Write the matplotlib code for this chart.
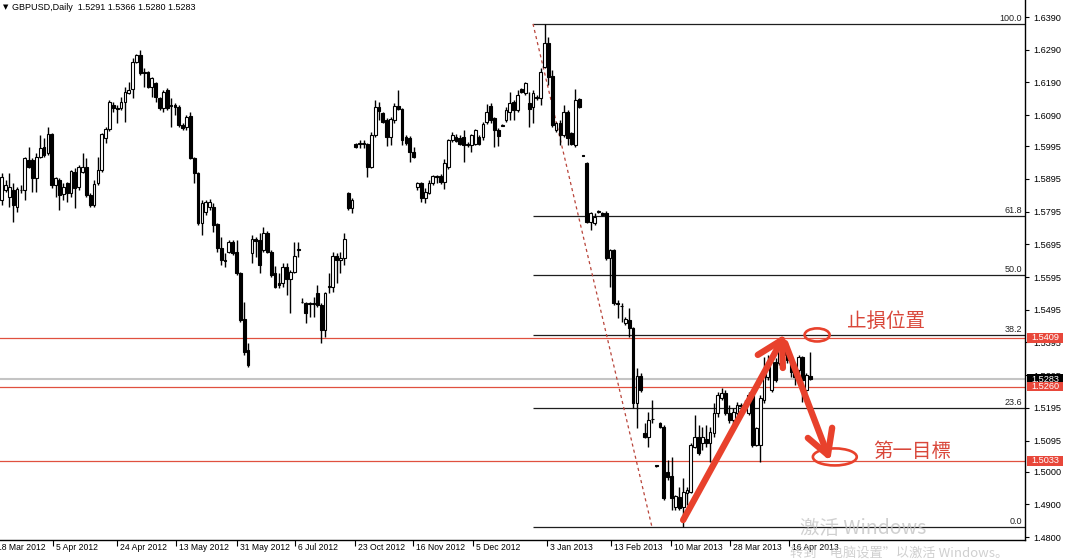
import matplotlib
matplotlib.use('Agg')
import matplotlib.pyplot as plt
from matplotlib.patches import Ellipse, Rectangle
import matplotlib.transforms as mtransforms

# ---------------- data (GBPUSD daily) ----------------
opens = [1.5831,1.5861,1.5839,1.5861,1.5810,1.5860,1.5861,1.5953,1.5953,1.5898,
1.5962,1.5992,1.5974,1.6032,1.5876,1.5891,1.5849,1.5882,1.5852,1.5916,
1.5870,1.5916,1.5931,1.5846,1.5816,1.5882,1.5922,1.6020,1.6047,1.6121,
1.6112,1.6112,1.6130,1.6158,1.6170,1.6252,1.6274,1.6222,1.6222,1.6176,
1.6188,1.6142,1.6112,1.6167,1.6121,1.6121,1.6115,1.6060,1.6053,1.6087,
1.5959,1.5913,1.5761,1.5794,1.5810,1.5810,1.5758,1.5684,1.5648,1.5672,
1.5703,1.5672,1.5608,1.5467,1.5372,1.5669,1.5712,1.5709,1.5678,1.5730,
1.5672,1.5608,1.5577,1.5577,1.5626,1.5590,1.5611,1.5681,1.5519,1.5516,
1.5516,1.5514,1.5547,1.5510,1.5433,1.5565,1.5565,1.5660,1.5648,1.5654,
1.5852,1.5806,1.6001,1.6004,1.6002,1.6001,1.5931,1.6029,1.6115,1.6096,
1.6075,1.6023,1.6075,1.6118,1.6108,1.6023,1.6020,1.5977,1.5870,1.5882,
1.5837,1.5852,1.5882,1.5904,1.5904,1.5886,1.5932,1.6014,1.6023,1.6020,
1.6023,1.5999,1.5999,1.6002,1.6023,1.6023,1.6069,1.6118,1.6081,1.6044,
1.6058,1.6075,1.6099,1.6130,1.6105,1.6170,1.6158,1.6127,1.6115,1.6142,
1.6142,1.6237,1.6311,1.6210,1.6044,1.6066,1.6029,1.6099,1.6035,1.5998,
1.6139,1.5968,1.5944,1.5764,1.5761,1.5794,1.5791,1.5791,1.5654,1.5678,
1.5516,1.5507,1.5455,1.5464,1.5439,1.5210,1.5292,1.5118,1.5106,1.5161,
1.5020,1.5149,1.5136,1.4999,1.4987,1.4892,1.4923,1.4892,1.4935,1.4938,
1.5076,1.5106,1.5088,1.5100,1.5088,1.5118,1.5179,1.5225,1.5240,1.5179,
1.5158,1.5179,1.5201,1.5198,1.5179,1.5234,1.5082,1.5082,1.5219,1.5289,
1.5249,1.5335,1.5332,1.5357,1.5381,1.5341,1.5326,1.5311,1.5350,1.5249,
1.5291]

highs = [1.5913,1.5891,1.5913,1.5882,1.5870,1.5876,1.5962,1.5992,1.5959,1.5974,
1.6029,1.6020,1.6053,1.6035,1.5901,1.5898,1.5882,1.5886,1.5922,1.5928,
1.5937,1.5974,1.5959,1.5852,1.5891,1.5962,1.6035,1.6053,1.6136,1.6130,
1.6121,1.6145,1.6176,1.6191,1.6265,1.6277,1.6289,1.6234,1.6225,1.6207,
1.6191,1.6145,1.6167,1.6173,1.6142,1.6127,1.6121,1.6066,1.6090,1.6099,
1.5962,1.5916,1.5831,1.5831,1.5834,1.5822,1.5761,1.5718,1.5669,1.5709,
1.5709,1.5709,1.5611,1.5519,1.5394,1.5724,1.5718,1.5730,1.5749,1.5736,
1.5678,1.5629,1.5608,1.5639,1.5639,1.5617,1.5703,1.5703,1.5531,1.5519,
1.5519,1.5534,1.5571,1.5516,1.5550,1.5608,1.5672,1.5669,1.5672,1.5730,
1.5855,1.5837,1.6004,1.6013,1.6013,1.6004,1.6038,1.6136,1.6130,1.6099,
1.6081,1.6084,1.6127,1.6167,1.6112,1.6029,1.6026,1.5992,1.5886,1.5886,
1.5867,1.5891,1.5907,1.5907,1.5910,1.5956,1.6017,1.6038,1.6032,1.6029,
1.6045,1.6008,1.6032,1.6048,1.6029,1.6069,1.6124,1.6127,1.6084,1.6050,
1.6063,1.6115,1.6161,1.6136,1.6167,1.6173,1.6191,1.6161,1.6167,1.6152,
1.6234,1.6369,1.6329,1.6228,1.6069,1.6075,1.6121,1.6105,1.6038,1.6170,
1.6142,1.5969,1.5947,1.5794,1.5791,1.5800,1.5794,1.5797,1.5681,1.5681,
1.5525,1.5516,1.5473,1.5501,1.5442,1.5317,1.5302,1.5149,1.5182,1.5219,
1.5021,1.5152,1.5143,1.5036,1.5045,1.4929,1.4954,1.4981,1.4954,1.5088,
1.5173,1.5143,1.5137,1.5143,1.5137,1.5210,1.5243,1.5256,1.5249,1.5204,
1.5194,1.5213,1.5210,1.5219,1.5243,1.5249,1.5137,1.5234,1.5350,1.5356,
1.5350,1.5347,1.5396,1.5402,1.5393,1.5350,1.5332,1.5356,1.5353,1.5302,
1.5366]

lows = [1.5816,1.5855,1.5810,1.5764,1.5794,1.5852,1.5831,1.5928,1.5855,1.5855,
1.5959,1.5962,1.5968,1.5867,1.5839,1.5800,1.5831,1.5825,1.5839,1.5807,
1.5861,1.5913,1.5839,1.5810,1.5810,1.5876,1.5916,1.6005,1.6041,1.6099,
1.6066,1.6105,1.6069,1.6155,1.6142,1.6249,1.6213,1.6176,1.6173,1.6145,
1.6130,1.6105,1.6099,1.6105,1.6053,1.6090,1.6053,1.6044,1.6044,1.5956,
1.5882,1.5755,1.5724,1.5785,1.5800,1.5733,1.5672,1.5632,1.5626,1.5669,
1.5663,1.5602,1.5458,1.5357,1.5320,1.5639,1.5657,1.5608,1.5672,1.5669,
1.5596,1.5562,1.5562,1.5565,1.5541,1.5485,1.5608,1.5657,1.5516,1.5455,
1.5473,1.5473,1.5504,1.5394,1.5412,1.5547,1.5550,1.5577,1.5608,1.5632,
1.5800,1.5791,1.5989,1.5989,1.5989,1.5901,1.5928,1.6023,1.6075,1.6066,
1.5995,1.5998,1.6066,1.6105,1.5998,1.5998,1.5946,1.5959,1.5861,1.5825,
1.5822,1.5849,1.5876,1.5882,1.5879,1.5864,1.5926,1.6007,1.6008,1.5999,
1.5947,1.5993,1.5977,1.5999,1.5999,1.6014,1.6063,1.6066,1.5992,1.5995,
1.6056,1.6069,1.6075,1.6075,1.6099,1.6158,1.6152,1.6053,1.6066,1.6136,
1.6121,1.6234,1.6182,1.6053,1.6038,1.5998,1.6023,1.5998,1.5999,1.5992,
1.6112,1.5965,1.5761,1.5740,1.5755,1.5791,1.5782,1.5648,1.5565,1.5510,
1.5470,1.5458,1.5449,1.5412,1.5195,1.5133,1.5243,1.5103,1.5076,1.5149,
1.5015,1.5133,1.4914,1.4975,1.4883,1.4883,1.4883,1.4831,1.4899,1.4935,
1.5073,1.5051,1.5066,1.5076,1.5030,1.5106,1.5167,1.5219,1.5173,1.5149,
1.5136,1.5173,1.5195,1.5185,1.5173,1.5076,1.5079,1.5030,1.5210,1.5280,
1.5243,1.5274,1.5326,1.5350,1.5332,1.5289,1.5265,1.5302,1.5213,1.5240,
1.5280]

closes = [1.5901,1.5876,1.5870,1.5816,1.5864,1.5861,1.5959,1.5931,1.5898,1.5962,
1.5989,1.5968,1.6032,1.5876,1.5898,1.5846,1.5870,1.5852,1.5919,1.5867,
1.5931,1.5931,1.5846,1.5816,1.5879,1.5922,1.6032,1.6047,1.6130,1.6112,
1.6108,1.6130,1.6161,1.6167,1.6252,1.6274,1.6219,1.6219,1.6176,1.6204,
1.6145,1.6112,1.6161,1.6112,1.6118,1.6115,1.6060,1.6050,1.6084,1.5959,
1.5913,1.5761,1.5822,1.5825,1.5825,1.5755,1.5684,1.5648,1.5645,1.5703,
1.5669,1.5608,1.5464,1.5366,1.5326,1.5712,1.5706,1.5632,1.5730,1.5672,
1.5602,1.5565,1.5571,1.5626,1.5590,1.5611,1.5660,1.5678,1.5518,1.5485,
1.5513,1.5517,1.5510,1.5433,1.5547,1.5568,1.5660,1.5648,1.5654,1.5712,
1.5806,1.5831,1.5992,1.6002,1.6004,1.5931,1.6029,1.6115,1.6102,1.6069,
1.6023,1.6078,1.6118,1.6108,1.6014,1.6004,1.5977,1.5962,1.5882,1.5837,
1.5855,1.5882,1.5904,1.5901,1.5886,1.5944,1.6014,1.6029,1.6011,1.6002,
1.5999,1.6002,1.6029,1.6045,1.6002,1.6063,1.6099,1.6075,1.6044,1.6026,
1.6060,1.6105,1.6127,1.6105,1.6152,1.6161,1.6188,1.6108,1.6158,1.6145,
1.6222,1.6311,1.6207,1.6060,1.6066,1.6029,1.6099,1.6020,1.6002,1.6136,
1.6115,1.5966,1.5764,1.5791,1.5779,1.5797,1.5785,1.5654,1.5678,1.5516,
1.5513,1.5505,1.5467,1.5439,1.5210,1.5292,1.5249,1.5106,1.5158,1.5160,
1.5018,1.5136,1.4920,1.4984,1.4920,1.4926,1.4889,1.4938,1.4944,1.5082,
1.5106,1.5057,1.5106,1.5088,1.5121,1.5179,1.5234,1.5240,1.5179,1.5158,
1.5182,1.5204,1.5204,1.5197,1.5234,1.5082,1.5133,1.5225,1.5295,1.5332,
1.5335,1.5280,1.5387,1.5387,1.5341,1.5305,1.5289,1.5350,1.5280,1.5295,
1.5283]

symbol = "GBPUSD,Daily"
date_labels = ["18 Mar 2012", "5 Apr 2012", "24 Apr 2012", "13 May 2012", "31 May 2012",
               "6 Jul 2012", "23 Oct 2012", "16 Nov 2012", "5 Dec 2012", "3 Jan 2013",
               "13 Feb 2013", "10 Mar 2013", "28 Mar 2013", "16 Apr 2013"]
date_pos = [-2.0, 13.3, 30.0, 45.3, 61.1, 76.2, 91.8, 106.8, 122.4, 141.6,
            158.3, 173.9, 189.2, 204.5]
price_ticks = [1.6390, 1.6290, 1.6190, 1.6090, 1.5995, 1.5895, 1.5795, 1.5695,
               1.5595, 1.5495, 1.5395, 1.5295, 1.5195, 1.5095, 1.5000, 1.4900, 1.4800]

fib_high, fib_low = 1.6369, 1.4831
fib_ratios = [100.0, 61.8, 50.0, 38.2, 23.6, 0.0]
fib_start, fib_end_bar = 138.0, 168.9
red_levels = [1.5409, 1.5260, 1.5033]

# ---------------- figure ----------------
W, H = 1066, 559
FONT = ['Liberation Sans', 'DejaVu Sans']
fig = plt.figure(figsize=(W / 100, H / 100), dpi=100)
fig.patch.set_facecolor('white')
ax = fig.add_axes([0, 19 / H, 1025 / W, 540 / H])
XMIN, XMAX = -0.44, 265.8
YMIN, YMAX = 1.4791, 1.6442
px_price = (YMAX - YMIN) / 540.0   # price per pixel (for box sizes)

RED = '#e0503f'
ARROW = '#e8412c'

# candles
n = len(opens)
xs = list(range(n))
ax.vlines(xs, lows, highs, color='black', lw=1.0, zorder=3)
for i in range(n):
    o, c = opens[i], closes[i]
    bull = c >= o
    ax.bar(i, abs(c - o), bottom=min(o, c), width=0.72,
           color='white' if bull else 'black', edgecolor='black',
           linewidth=0.8, zorder=4)

# red horizontal lines
for lv in red_levels:
    ax.axhline(lv, color=RED, lw=0.9, zorder=2)
# current price line
ax.axhline(closes[-1], color='#c4c4c4', lw=1.5, zorder=1)

# fibonacci
rng = fib_high - fib_low
for r in fib_ratios:
    lv = fib_low + rng * r / 100.0
    ax.hlines(lv, fib_start, XMAX, color='#1e1e1e', lw=0.9, zorder=2)
    ax.annotate(f'{r:.1f}', xy=(1.0, lv), xycoords=('axes fraction', 'data'),
                xytext=(-3, 1), textcoords='offset pixels', ha='right', va='bottom',
                fontsize=6.5, color='#222222', family=FONT)
ax.plot([fib_start, fib_end_bar], [fib_high, fib_low], color='#b8443a',
        lw=0.9, ls=(0, (2.5, 2.5)), zorder=2)

# axes styling
for s in ['left', 'top']:
    ax.spines[s].set_visible(False)
for s in ['right', 'bottom']:
    ax.spines[s].set_color('black')
    ax.spines[s].set_linewidth(1.0)
ax.yaxis.tick_right()
ax.set_yticks(price_ticks)
ax.set_yticklabels([f'{v:.4f}' for v in price_ticks], family=FONT)
ax.tick_params(axis='y', length=3, width=0.8, pad=3, labelsize=6.6, colors='black')
ax.set_xticks(date_pos)
ax.set_xticklabels([])
ax.tick_params(axis='x', length=4, width=0.8)
# fix the view after ticks (set_ticks may widen it)
ax.set_xlim(XMIN, XMAX)
ax.set_ylim(YMIN, YMAX)
for lab, p in zip(date_labels, date_pos):
    ax.annotate(lab, xy=(p, 0), xycoords=('data', 'axes fraction'),
                xytext=(3, -3), textcoords='offset pixels', ha='left', va='top',
                fontsize=6.2, color='black', family=FONT, annotation_clip=False)

# price boxes on the axis
btr = mtransforms.blended_transform_factory(ax.transAxes, ax.transData)
box_x0 = 1.0 + 2 / 1025.0
box_w = 36 / 1025.0
box_h = 9.5 * px_price
def price_box(lv, fc, z):
    ax.add_patch(Rectangle((box_x0, lv - box_h / 2), box_w, box_h, transform=btr,
                           fc=fc, ec='none', clip_on=False, zorder=z))
    ax.text(box_x0 + box_w / 2, lv, f'{lv:.4f}', transform=btr, ha='center',
            va='center', fontsize=6.6, color='white', family=FONT,
            clip_on=False, zorder=z + 0.5)
price_box(closes[-1], 'black', 10)
for lv in red_levels:
    price_box(lv, '#e8473a', 11)

# hand-drawn annotations
a1 = [(177.0, 1.4852), (202.7, 1.5403)]
a1_head = [(196.4, 1.5357), (202.7, 1.5403), (202.9, 1.5317)]
a2 = [(203.5, 1.5393), (214.6, 1.5051)]
a2_head = [(209.4, 1.5103), (214.6, 1.5051), (215.7, 1.5134)]
for seg in [a1, a1_head, a2, a2_head]:
    ax.plot([p[0] for p in seg], [p[1] for p in seg], color=ARROW, lw=4.6,
            solid_capstyle='round', solid_joinstyle='round', zorder=8)
ax.add_patch(Ellipse((211.8, 1.5418), 6.5, 0.0040, fill=False, ec=ARROW, lw=1.9, zorder=8))
ax.add_patch(Ellipse((216.4, 1.5045), 11.4, 0.0052, fill=False, ec=ARROW, lw=1.9, zorder=8))
ax.text(229.7, 1.5458, '止損位置', fontsize=14, color='#d9473a', ha='center', va='center',
        family=['Noto Sans CJK TC', 'DejaVu Sans'], zorder=9)
ax.text(236.4, 1.5063, '第一目標', fontsize=14, color='#d9473a', ha='center', va='center',
        family=['Noto Sans CJK TC', 'DejaVu Sans'], zorder=9)

# header
fig.text(3 / W, 1 - 7 / H, '▼', fontsize=5, ha='left', va='center', color='black')
fig.text(12 / W, 1 - 7 / H,
         f'{symbol}  {opens[-1]:.4f} {highs[-1]:.4f} {lows[-1]:.4f} {closes[-1]:.4f}',
         fontsize=6.5, ha='left', va='center', color='black', family=FONT)

# faint OS watermark
fig.text(800 / W, 1 - 529 / H, '激活 Windows', fontsize=14, color='#c4c4c4', alpha=0.8,
         ha='left', va='center', family=['Noto Sans CJK SC', 'DejaVu Sans'], zorder=20)
fig.text(790 / W, 1 - 553 / H, '转到“电脑设置”以激活 Windows。', fontsize=9.5,
         color='#c4c4c4', alpha=0.8, ha='left', va='center',
         family=['Noto Sans CJK SC', 'DejaVu Sans'], zorder=20)

fig.savefig('out.png', dpi=100, facecolor='white')
